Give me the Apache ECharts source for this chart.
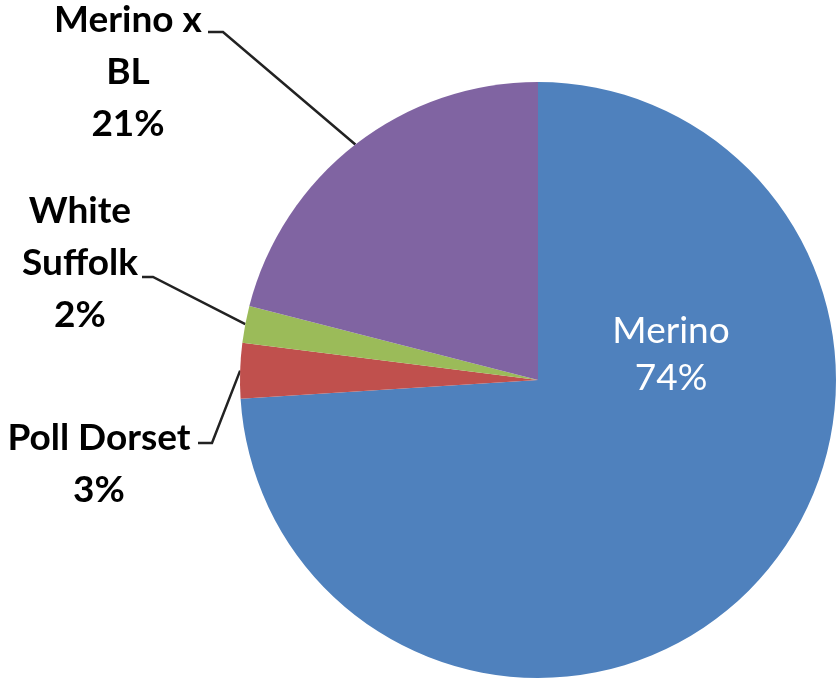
<!DOCTYPE html>
<html>
<head>
<meta charset="utf-8">
<script src="https://cdn.jsdelivr.net/npm/echarts@6/dist/echarts.min.js"></script>
<style>html,body{margin:0;padding:0;background:#fff;}#c{width:838px;height:682px;}</style>
</head>
<body>
<div id="c"></div>
<script>
const categories = ["Merino", "Poll Dorset", "White Suffolk", "Merino x BL"];
const labelTexts = ["Merino\n74%", "Poll Dorset\n3%", "White\nSuffolk\n2%", "Merino x\nBL\n21%"];
const values = [74, 3, 2, 21];
const colors = ["#4F81BD", "#C0504D", "#9BBB59", "#8064A2"];

// label layout (label centre, and leader elbow points)
const labelCenters = [[671, 355], [99, 464], [80, 263], [128, 72]];
const elbows = [null, [[212, 443], [198, 443]], [[153, 277], [142, 277]], [[223, 32], [208, 32]]];

const chart = echarts.init(document.getElementById('c'), null, {renderer: 'canvas'});
chart.setOption({
  animation: false,
  series: [{
    type: 'pie',
    center: [538, 380],
    radius: 298,
    startAngle: 90,
    clockwise: true,
    avoidLabelOverlap: false,
    itemStyle: {borderWidth: 0},
    label: {
      show: true,
      position: 'outside',
      fontFamily: 'Lato',
      fontSize: 37,
      fontWeight: 'bold',
      color: '#000',
      lineHeight: 52,
      align: 'center'
    },
    labelLine: {show: true, length: 20, length2: 10, lineStyle: {color: '#222', width: 2.5}},
    labelLayout: function (p) {
      const i = p.dataIndex;
      const c = labelCenters[i];
      const out = {x: c[0], y: c[1], align: 'center', verticalAlign: 'middle'};
      if (elbows[i] && p.labelLinePoints) {
        out.labelLinePoints = [p.labelLinePoints[0], elbows[i][0], elbows[i][1]];
      }
      return out;
    },
    data: categories.map((n, i) => {
      const d = {name: n, value: values[i], itemStyle: {color: colors[i]}};
      d.label = {formatter: labelTexts[i]};
      if (i === 0) {
        d.label = {formatter: labelTexts[i], position: 'inside', color: '#fff', fontWeight: 'normal', lineHeight: 47};
        d.labelLine = {show: false};
      }
      return d;
    })
  }]
});
</script>
</body>
</html>
